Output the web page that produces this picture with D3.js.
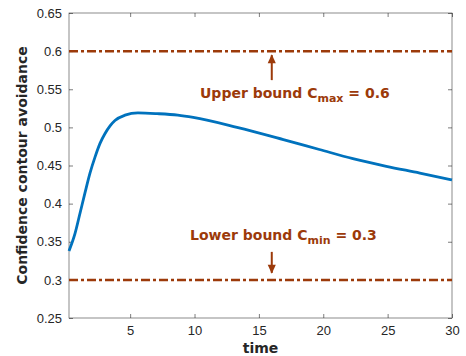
<!DOCTYPE html>
<html>
<head>
<meta charset="utf-8">
<script src="https://cdn.jsdelivr.net/npm/d3@7"></script>
<style>
  body { margin: 0; background: #fff; }
  svg { display: block; font-family: "DejaVu Sans", sans-serif; }
</style>
</head>
<body>
<div id="chart"></div>
<script>
// curve
let timeVals = [0.25, 0.72, 1.1, 1.49, 1.88, 2.27, 2.66, 3.05, 3.44, 3.82, 4.6, 5.6, 7.1, 8.7, 9.9, 13.3, 16.9, 19.7, 22.3, 24.9, 27.5, 30];
let confVals = [0.338, 0.361, 0.387, 0.414, 0.44, 0.461, 0.479, 0.492, 0.502, 0.509, 0.516, 0.519, 0.518, 0.516, 0.513, 0.5, 0.484, 0.471, 0.459, 0.449, 0.44, 0.431];

let xTicks = [5, 10, 15, 20, 25, 30];
let yTicks = [0.25, 0.3, 0.35, 0.4, 0.45, 0.5, 0.55, 0.6, 0.65];
let cMax = 0.6, cMin = 0.3;
let arrowTime = 16;

let margin = { top: 13, right: 14, bottom: 38, left: 69 };
let width = 466 - margin.left - margin.right,
    height = 356 - margin.top - margin.bottom;

let boundColor = "#9c3a0a";
let axisColor = "#262626";

let svg = d3.select("#chart").append("svg")
    .attr("width", 466)
    .attr("height", 356);

let g = svg.append("g")
    .attr("transform", "translate(" + margin.left + "," + margin.top + ")");

let x = d3.scaleLinear().domain([0.25, 30]).range([0, width]);
let y = d3.scaleLinear().domain([0.25, 0.65]).range([height, 0]);

// axes (ticks pointing in)
let xAxis = d3.axisBottom(x).tickValues(xTicks).tickSizeInner(-4).tickSizeOuter(0).tickPadding(8);
let yAxis = d3.axisLeft(y).tickValues(yTicks).tickSizeInner(-4).tickSizeOuter(0).tickPadding(7)
    .tickFormat(d => d3.format("")(+d.toFixed(2)));

g.append("g")
    .attr("transform", "translate(0," + height + ")")
    .call(xAxis)
    .call(s => s.selectAll("text").style("font-size", "13px").attr("fill", axisColor));

g.append("g")
    .call(yAxis)
    .call(s => s.selectAll("text").style("font-size", "13px").attr("fill", axisColor));

// top and right ticks
g.append("g")
    .call(d3.axisTop(x).tickValues(xTicks).tickSizeInner(-4).tickSizeOuter(0).tickFormat(""));
g.append("g")
    .attr("transform", "translate(" + width + ",0)")
    .call(d3.axisRight(y).tickValues(yTicks).tickSizeInner(-4).tickSizeOuter(0).tickFormat(""));

g.selectAll(".domain").remove();
g.selectAll(".tick line").attr("stroke", axisColor).attr("stroke-width", 0.6);

g.append("rect")
    .attr("width", width)
    .attr("height", height)
    .attr("fill", "none")
    .attr("stroke", axisColor)
    .attr("stroke-width", 0.7)
    .attr("stroke-opacity", 0.75);

// bounds
[cMax, cMin].forEach(function(v) {
    g.append("line")
        .attr("x1", 0).attr("x2", width)
        .attr("y1", y(v)).attr("y2", y(v))
        .attr("stroke", boundColor)
        .attr("stroke-width", 2.5)
        .attr("stroke-dasharray", "9,3,3,3");
});

// curve
let data = timeVals.map((t, i) => ({ t: t, v: confVals[i] }));
let line = d3.line()
    .curve(d3.curveMonotoneX)
    .x(d => x(d.t))
    .y(d => y(d.v));

g.append("path")
    .datum(data)
    .attr("d", line)
    .attr("fill", "none")
    .attr("stroke", "#0072BD")
    .attr("stroke-width", 2.8);

// arrows
svg.append("defs").append("marker")
    .attr("id", "arrowhead")
    .attr("viewBox", "0 0 10 10")
    .attr("refX", 9).attr("refY", 5)
    .attr("markerUnits", "userSpaceOnUse")
    .attr("markerWidth", 10).attr("markerHeight", 9)
    .attr("orient", "auto-start-reverse")
    .append("path")
    .attr("d", "M0,0.5 L10,5 L0,9.5 Z")
    .attr("fill", boundColor);

let ax = x(arrowTime);
g.append("line")
    .attr("x1", ax).attr("x2", ax)
    .attr("y1", y(cMax) + 29).attr("y2", y(cMax) + 4)
    .attr("stroke", boundColor).attr("stroke-width", 2)
    .attr("marker-end", "url(#arrowhead)");

g.append("line")
    .attr("x1", ax).attr("x2", ax)
    .attr("y1", y(cMin) - 28).attr("y2", y(cMin) - 7)
    .attr("stroke", boundColor).attr("stroke-width", 2)
    .attr("marker-end", "url(#arrowhead)");

// annotations
let upper = g.append("text")
    .attr("x", 200 - margin.left)
    .attr("y", 98 - margin.top)
    .attr("fill", boundColor)
    .style("font-size", "14px")
    .style("font-weight", "bold");
upper.append("tspan").text("Upper bound C");
upper.append("tspan").attr("dy", 4).style("font-size", "11px").text("max");
upper.append("tspan").attr("dy", -4).text(" = 0.6");

let lower = g.append("text")
    .attr("x", 190 - margin.left)
    .attr("y", 240 - margin.top)
    .attr("fill", boundColor)
    .style("font-size", "14px")
    .style("font-weight", "bold");
lower.append("tspan").text("Lower bound C");
lower.append("tspan").attr("dy", 4).style("font-size", "11px").text("min");
lower.append("tspan").attr("dy", -4).text(" = 0.3");

// axis titles
svg.append("text")
    .attr("x", margin.left + width / 2)
    .attr("y", 353)
    .attr("text-anchor", "middle")
    .attr("fill", axisColor)
    .style("font-size", "14px")
    .style("font-weight", "bold")
    .text("time");

svg.append("text")
    .attr("transform", "translate(27," + (margin.top + height / 2) + ") rotate(-90)")
    .attr("text-anchor", "middle")
    .attr("fill", axisColor)
    .style("font-size", "14px")
    .style("font-weight", "bold")
    .text("Confidence contour avoidance");
</script>
</body>
</html>
